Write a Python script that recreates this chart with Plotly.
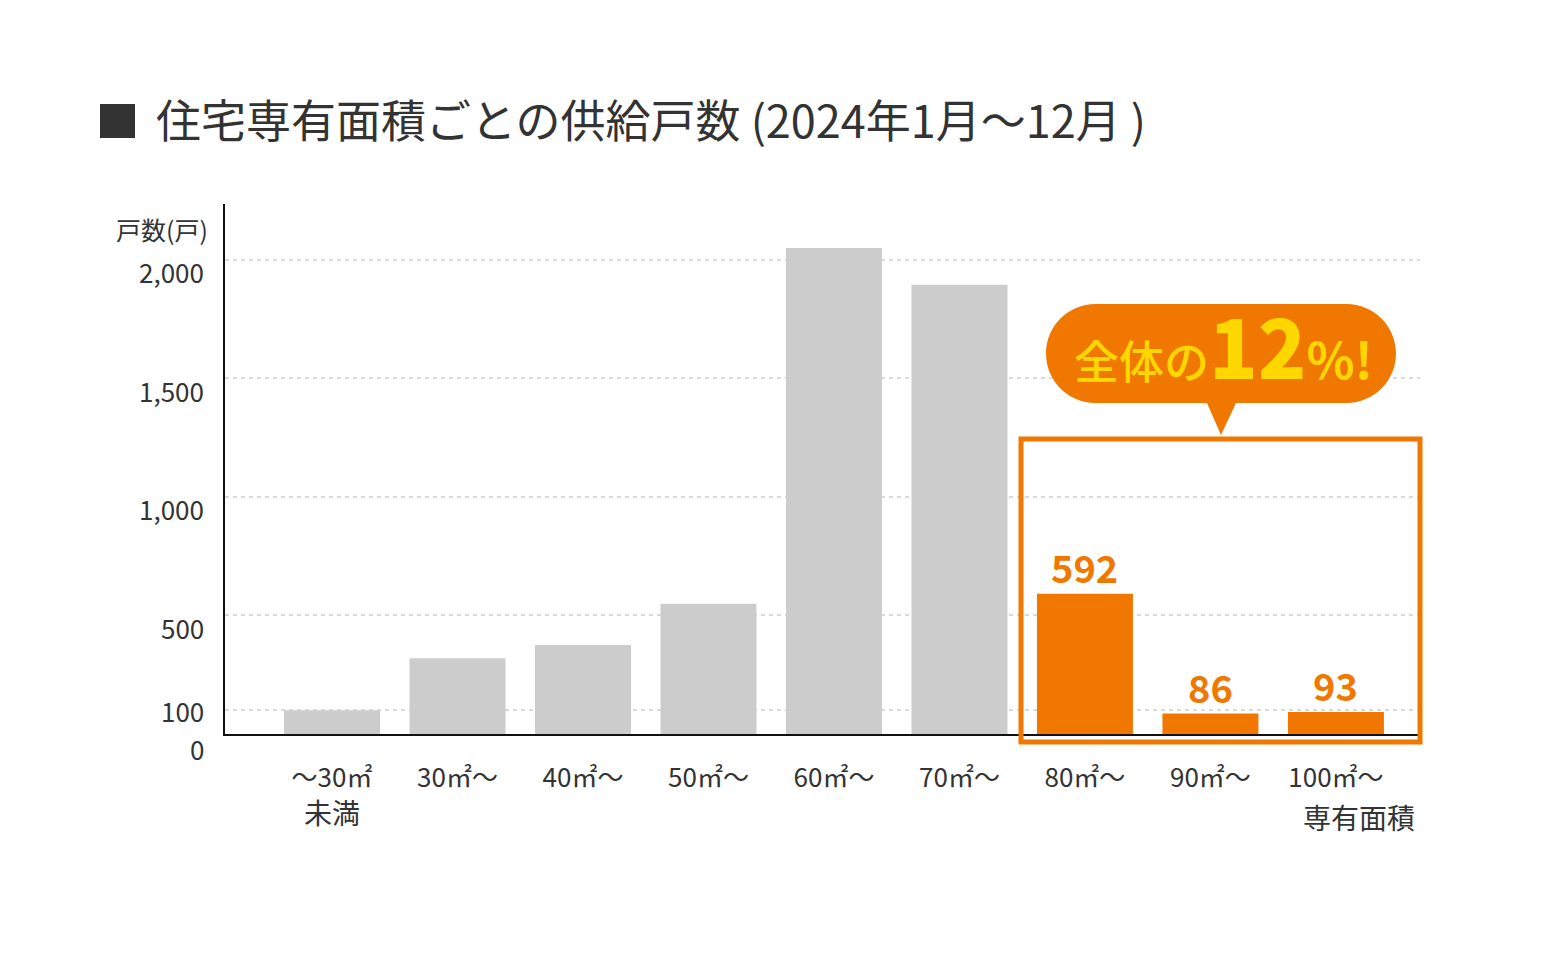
import plotly.graph_objects as go

# data
categories = ['～30㎡', '30㎡～', '40㎡～', '50㎡～', '60㎡～',
              '70㎡～', '80㎡～', '90㎡～', '100㎡～']
units = [100, 320, 375, 550, 2050, 1895, 592, 86, 93]
highlight = [False, False, False, False, False, False, True, True, True]
y_ticks = [0, 100, 500, 1000, 1500, 2000]
y_ticktext = ['0', '100', '500', '1,000', '1,500', '2,000']

FONT = 'Noto Sans CJK JP'
TEXT = '#333333'
ORANGE = '#F07800'
GRAY = '#CCCCCC'
YELLOW = '#FFD700'

# page puts the figure 8px in from the top-left corner
OFF = 8
W, H = 1544, 940
PLOT_L, PLOT_R, PLOT_T, PLOT_B = 225, 1420, 204, 734


def px_x(px):
    return (px - PLOT_L) / (PLOT_R - PLOT_L)


def px_y(py):
    return (PLOT_B - py) / (PLOT_B - PLOT_T)


colors = [ORANGE if h else GRAY for h in highlight]
labels = [f'{v:,}' if h else '' for v, h in zip(units, highlight)]

fig = go.Figure(go.Bar(
    x=categories,
    y=units,
    marker=dict(color=colors, line=dict(width=0)),
    width=0.765,
    hoverinfo='skip',
))

# speech bubble (rounded pill + tail)
bx0, bx1, by0, by1 = 1046, 1396, 304, 403
r = (by1 - by0) / 2
k = 0.5523 * r
tail_l, tail_r, tail_tip = 1207, 1236, (1221, 435)


def P(px, py):
    return f'{px_x(px):.5f},{px_y(py):.5f}'


bubble = (
    f'M {P(bx0 + r, by0)} L {P(bx1 - r, by0)} '
    f'C {P(bx1 - r + k, by0)} {P(bx1, by0 + r - k)} {P(bx1, by0 + r)} '
    f'C {P(bx1, by0 + r + k)} {P(bx1 - r + k, by1)} {P(bx1 - r, by1)} '
    f'L {P(tail_r, by1)} L {P(*tail_tip)} L {P(tail_l, by1)} '
    f'L {P(bx0 + r, by1)} '
    f'C {P(bx0 + r - k, by1)} {P(bx0, by0 + r + k)} {P(bx0, by0 + r)} '
    f'C {P(bx0, by0 + r - k)} {P(bx0 + r - k, by0)} {P(bx0 + r, by0)} Z'
)

shapes = [
    dict(type='path', xref='paper', yref='paper', path=bubble,
         fillcolor=ORANGE, line=dict(width=0), layer='above'),
    # highlight frame around the last three bars
    dict(type='rect', xref='paper', yref='paper',
         x0=px_x(1021), x1=px_x(1420), y0=px_y(742), y1=px_y(439),
         line=dict(color=ORANGE, width=5), fillcolor='rgba(0,0,0,0)', layer='above'),
    # title square
    dict(type='rect', xref='paper', yref='paper',
         x0=px_x(100), x1=px_x(135), y0=px_y(138), y1=px_y(104),
         line=dict(width=0), fillcolor=TEXT),
]

annotations = [
    dict(text='住宅専有面積ごとの供給戸数 (2024年1月～12月 )',
         x=px_x(154), y=px_y(119), xref='paper', yref='paper',
         xanchor='left', yanchor='middle', showarrow=False,
         font=dict(family=FONT, size=45, color=TEXT)),
    dict(text='戸数(戸)', x=px_x(210), y=px_y(229), xref='paper', yref='paper',
         xanchor='right', yanchor='middle', showarrow=False,
         font=dict(family=FONT, size=25, color=TEXT)),
    dict(text='未満', x=0, y=px_y(812), xref='x', yref='paper',
         xanchor='center', yanchor='middle', showarrow=False,
         font=dict(family=FONT, size=28, color=TEXT)),
    dict(text='専有面積', x=px_x(1417), y=px_y(817), xref='paper', yref='paper',
         xanchor='right', yanchor='middle', showarrow=False,
         font=dict(family=FONT, size=28, color=TEXT)),
    dict(text=("全体の<span style='font-size:80px;font-weight:900'>12</span>"
               "<span style='font-size:50px;font-weight:700'>%!</span>"),
         x=px_x(1223), y=px_y(344), xref='paper', yref='paper',
         xanchor='center', yanchor='middle', showarrow=False,
         font=dict(family=FONT, size=45, color=YELLOW, weight=500)),
]

# value labels above the highlighted bars
for c, v, t in zip(categories, units, labels):
    if t:
        annotations.append(dict(
            text=t, x=c, y=v, xref='x', yref='y',
            xanchor='center', yanchor='bottom', yshift=-2, showarrow=False,
            font=dict(family=FONT, size=38, color=ORANGE, weight=600)))

# y tick labels sit a little below their gridlines (100 kept clear of 0)
for v, t in zip(y_ticks, y_ticktext):
    annotations.append(dict(
        text=t, x=px_x(206), y=v, xref='paper', yref='y',
        xanchor='right', yanchor='middle', showarrow=False,
        yshift=0 if v == 100 else -12 if v else -14,
        font=dict(family=FONT, size=26, color=TEXT)))

fig.update_layout(
    width=W, height=H,
    margin=dict(l=PLOT_L - OFF, r=W - (PLOT_R - OFF),
                t=PLOT_T - OFF, b=H - (PLOT_B - OFF)),
    paper_bgcolor='white', plot_bgcolor='white',
    showlegend=False,
    shapes=shapes,
    annotations=annotations,
    font=dict(family=FONT, color=TEXT),
    xaxis=dict(
        type='category',
        range=[-0.853, 8.67],
        showgrid=False, zeroline=False,
        showline=True, linecolor='#111111', linewidth=2,
        ticks='', ticklabelstandoff=20,
        tickfont=dict(family=FONT, size=26, color=TEXT),
        fixedrange=True,
    ),
    yaxis=dict(
        range=[0, 2236],
        tickvals=y_ticks[1:],
        showticklabels=False,
        showgrid=True, gridcolor='#D9D9D9', gridwidth=1.5, griddash='4px,4px',
        zeroline=False,
        showline=True, linecolor='#111111', linewidth=2,
        ticks='',
        fixedrange=True,
    ),
)

fig.write_html('out.html')
